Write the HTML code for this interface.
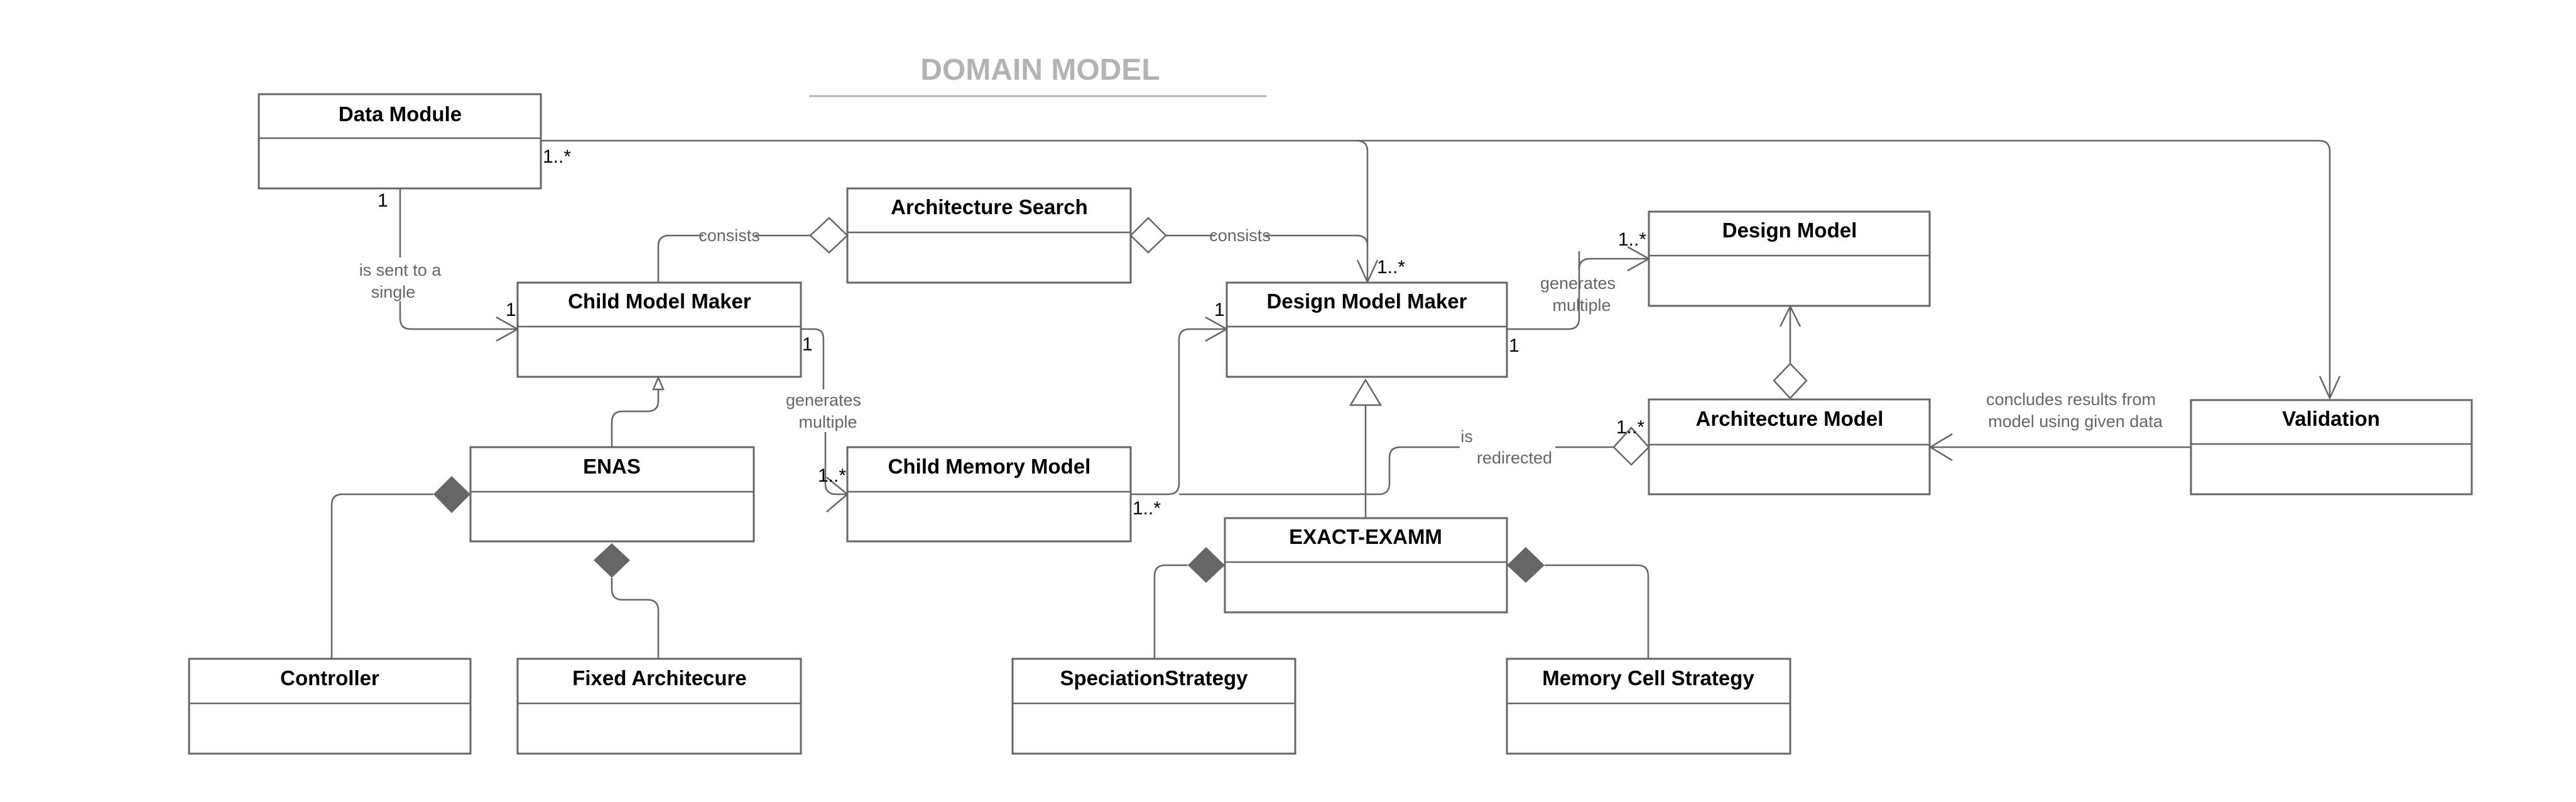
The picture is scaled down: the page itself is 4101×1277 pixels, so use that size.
<!DOCTYPE html>
<html><head><meta charset="utf-8"><style>
html,body{margin:0;padding:0;background:#fff;}
svg{display:block;}
.b{font-family:"Liberation Sans",sans-serif;font-weight:bold;font-size:33px;fill:#000;text-anchor:middle;}
.l{font-family:"Liberation Sans",sans-serif;font-size:27px;fill:#666;text-anchor:middle;}
.m{font-family:"Liberation Sans",sans-serif;font-size:30px;fill:#000;}
.box{fill:#fff;stroke:#666;stroke-width:3;}
.c{fill:none;stroke:#666;stroke-width:2.5;}
</style></head><body>
<svg width="4101" height="1277" viewBox="0 0 4101 1277" xmlns="http://www.w3.org/2000/svg">
<rect width="4101" height="1277" fill="#fff"/>
<text x="1656" y="127" font-family="Liberation Sans,sans-serif" font-weight="bold" font-size="48" fill="#b3b3b3" text-anchor="middle">DOMAIN MODEL</text>
<line x1="1288" y1="153" x2="2016" y2="153" stroke="#b3b3b3" stroke-width="3"/>

<path class="c" d="M861 224 H3692 Q3709 224 3709 241 V634"/>
<path class="c" d="M2160 224 Q2177 224 2177 241 V449"/>
<polyline class="c" points="2161,414 2177,449 2193,414"/>
<polyline class="c" points="3693,599 3709,634 3725,599"/>
<path class="c" d="M1856 375 H1935 M2014 375 H2160 Q2177 375 2177 392"/>
<path class="c" d="M1290 375 H1202 M1120 375 H1065 Q1048 375 1048 392 V450"/>
<path class="c" d="M637 300 V410 M637 480 V507 Q637 524 654 524 H824"/>
<polyline class="c" points="790,505 824,524 790,543"/>
<path class="c" d="M1275 524 H1296 Q1311 524 1311 539 V620 M1314 688 V770 Q1314 787 1331 787 H1349"/>
<polyline class="c" points="1316,760 1349,787 1316,815"/>
<path class="c" d="M1800 787 H1860 Q1877 787 1877 770 V541 Q1877 524 1894 524 H1953"/>
<polyline class="c" points="1919,505 1953,524 1919,543"/>
<path class="c" d="M1877 787 H2195 Q2212 787 2212 770 V729 Q2212 712 2229 712 H2324 M2476 712 H2569"/>
<path class="c" d="M2399 524 H2497 Q2514 524 2514 507 V506 M2514 400 V429 Q2514 412 2531 412 H2625"/>
<path class="c" d="M2514 506 V412"/>
<polyline class="c" points="2591,393 2625,412 2591,431"/>
<path class="c" d="M2850 579 V488"/>
<polyline class="c" points="2834,520 2850,488 2866,520"/>
<polygon points="2850,579 2876,606 2850,634 2824,606" fill="#fff" stroke="#666" stroke-width="2.5"/>
<path class="c" d="M3488 712 H3072"/>
<polyline class="c" points="3108,691 3073,712 3108,733"/>
<path class="c" d="M974 712 V672 Q974 655 991 655 H1031 Q1048 655 1048 638 V620"/>
<polygon points="1048,601 1040,620 1056,620" fill="#fff" stroke="#666" stroke-width="2.5"/>
<path class="c" d="M690 787 H545 Q528 787 528 804 V1049"/>
<polygon points="749,787 719,758 690,787 719,817" fill="#666"/>
<path class="c" d="M974 920 V938 Q974 955 991 955 H1031 Q1048 955 1048 972 V1049"/>
<polygon points="974,865 1003,892 974,920 945,892" fill="#666"/>
<path class="c" d="M2174 825 V645"/>
<polygon points="2174,605 2150,645 2198,645" fill="#fff" stroke="#666" stroke-width="2.5"/>
<path class="c" d="M1891 900 H1855 Q1838 900 1838 917 V1049"/>
<polygon points="1950,900 1920,871 1891,900 1920,928" fill="#666"/>
<path class="c" d="M2459 900 H2607 Q2624 900 2624 917 V1049"/>
<polygon points="2399,900 2429,871 2459,900 2429,928" fill="#666"/>

<g>
<rect class="box" x="412" y="150" width="449" height="150"/><line class="c" x1="412" y1="220" x2="861" y2="220"/>
<text class="b" x="637" y="193">Data Module</text>
<rect class="box" x="1349" y="300" width="451" height="150"/><line class="c" x1="1349" y1="370" x2="1800" y2="370"/>
<text class="b" x="1575" y="341">Architecture Search</text>
<rect class="box" x="824" y="450" width="451" height="150"/><line class="c" x1="824" y1="520" x2="1275" y2="520"/>
<text class="b" x="1050" y="491">Child Model Maker</text>
<rect class="box" x="1953" y="450" width="446" height="150"/><line class="c" x1="1953" y1="520" x2="2399" y2="520"/>
<text class="b" x="2176" y="491">Design Model Maker</text>
<rect class="box" x="2625" y="337" width="447" height="150"/><line class="c" x1="2625" y1="407" x2="3072" y2="407"/>
<text class="b" x="2849" y="378">Design Model</text>
<rect class="box" x="2625" y="636" width="447" height="151"/><line class="c" x1="2625" y1="708" x2="3072" y2="708"/>
<text class="b" x="2849" y="678">Architecture Model</text>
<rect class="box" x="3488" y="637" width="447" height="150"/><line class="c" x1="3488" y1="707" x2="3935" y2="707"/>
<text class="b" x="3711" y="678">Validation</text>
<rect class="box" x="749" y="712" width="451" height="150"/><line class="c" x1="749" y1="783" x2="1200" y2="783"/>
<text class="b" x="974" y="754">ENAS</text>
<rect class="box" x="1349" y="712" width="451" height="150"/><line class="c" x1="1349" y1="783" x2="1800" y2="783"/>
<text class="b" x="1575" y="754">Child Memory Model</text>
<rect class="box" x="1950" y="825" width="449" height="150"/><line class="c" x1="1950" y1="895" x2="2399" y2="895"/>
<text class="b" x="2174" y="866">EXACT-EXAMM</text>
<rect class="box" x="301" y="1049" width="448" height="151"/><line class="c" x1="301" y1="1120" x2="749" y2="1120"/>
<text class="b" x="525" y="1091">Controller</text>
<rect class="box" x="824" y="1049" width="451" height="151"/><line class="c" x1="824" y1="1120" x2="1275" y2="1120"/>
<text class="b" x="1050" y="1091">Fixed Architecure</text>
<rect class="box" x="1612" y="1049" width="450" height="151"/><line class="c" x1="1612" y1="1120" x2="2062" y2="1120"/>
<text class="b" x="1837" y="1091">SpeciationStrategy</text>
<rect class="box" x="2399" y="1049" width="451" height="151"/><line class="c" x1="2399" y1="1120" x2="2850" y2="1120"/>
<text class="b" x="2624" y="1091">Memory Cell Strategy</text>
</g>
<polygon points="1349,375 1320,347 1290,375 1320,402" fill="#fff" stroke="#666" stroke-width="2.5"/>
<polygon points="1800,375 1828,347 1856,375 1828,402" fill="#fff" stroke="#666" stroke-width="2.5"/>
<polygon points="2625,712 2597,681 2569,712 2597,740" fill="#fff" stroke="#666" stroke-width="2.5"/>

<text class="l" x="1161" y="384">consists</text>
<text class="l" x="1974" y="384">consists</text>
<text class="l" x="637" y="439">is sent to a</text>
<text class="l" x="626" y="474">single</text>
<text class="l" x="1311" y="646">generates</text>
<text class="l" x="1318" y="681">multiple</text>
<text class="l" x="2512" y="460">generates</text>
<text class="l" x="2518" y="495">multiple</text>
<text class="l" x="2335" y="704">is</text>
<text class="l" x="2411" y="738">redirected</text>
<text class="l" x="3297" y="645">concludes results from</text>
<text class="l" x="3304" y="680">model using given data</text>

<text class="m" x="864" y="259">1..*</text>
<text class="m" x="601" y="329">1</text>
<text class="m" x="805" y="503">1</text>
<text class="m" x="1277" y="558">1</text>
<text class="m" x="1933" y="503">1</text>
<text class="m" x="2402" y="560">1</text>
<text class="m" x="2192" y="435">1..*</text>
<text class="m" x="2576" y="391">1..*</text>
<text class="m" x="1302" y="767">1..*</text>
<text class="m" x="1803" y="819">1..*</text>
<text class="m" x="2573" y="690">1..*</text>
</svg>
</body></html>
